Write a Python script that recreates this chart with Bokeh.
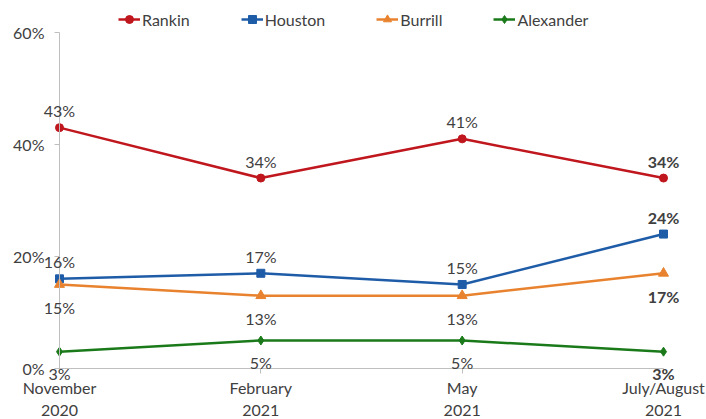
from bokeh.plotting import figure
from bokeh.models import ColumnDataSource, FixedTicker, Legend, LegendItem, Range1d, LabelSet
from bokeh.core.properties import value
from bokeh.embed import file_html
from bokeh.resources import INLINE

periods = ["November\n2020", "February\n2021", "May\n2021", "July/August\n2021"]
rankin = [43, 34, 41, 34]
houston = [16, 17, 15, 24]
burrill = [15, 13, 13, 17]
alexander = [3, 5, 5, 3]
y_ticks = [0, 20, 40, 60]

FONT = "Lato"
TXT = "#404040"

series = [
    ("Rankin", rankin, "#C0161D", "circle", 8, 17),
    ("Houston", houston, "#1F5CA8", "square", 8, 17),
    ("Burrill", burrill, "#E8822E", "triangle", 10, -23),
    ("Alexander", alexander, "#1A7A1A", "diamond", 9, -22),
]

p = figure(width=706, height=419, output_backend="svg", toolbar_location=None,
           x_range=Range1d(-0.293, 3.2135), y_range=Range1d(-9.107, 65.7),
           min_border_left=0, min_border_right=0, min_border_top=0, min_border_bottom=0)
p.outline_line_color = None
p.grid.visible = False
p.background_fill_color = "white"

xs = list(range(len(periods)))
items = []
for name, vals, color, marker, msize, yoff in series:
    src = ColumnDataSource(dict(x=xs, y=vals))
    ln = p.line("x", "y", source=src, line_color=color, line_width=2.5)
    sc = p.scatter("x", "y", source=src, marker=marker, size=msize,
                   fill_color=color, line_color=color)
    items.append(LegendItem(label=name, renderers=[ln, sc]))
    n = len(vals)
    for idxs, style in ((list(range(n - 1)), "normal"), ([n - 1], "bold")):
        lsrc = ColumnDataSource(dict(x=[xs[i] for i in idxs], y=[vals[i] for i in idxs],
                                     lab=[f"{vals[i]}%" for i in idxs]))
        p.add_layout(LabelSet(x="x", y="y", text="lab", source=lsrc,
                              text_font=value(FONT), text_font_size="16px",
                              text_color=TXT, text_align="center",
                              text_baseline="middle", y_offset=yoff,
                              text_font_style=style))

legend = Legend(items=items, orientation="horizontal", location=(118, 390),
                label_text_font=FONT, label_text_font_size="16px",
                label_text_color=TXT, glyph_width=22, glyph_height=20,
                label_height=20, label_standoff=2, spacing=51, padding=0,
                margin=0, border_line_color=None, background_fill_alpha=0)
p.add_layout(legend, "center")

p.xaxis.ticker = FixedTicker(ticks=xs)
p.xaxis.major_label_overrides = {i: s for i, s in enumerate(periods)}
p.xaxis.bounds = (xs[0], xs[-1])
p.xaxis.fixed_location = y_ticks[0]
p.yaxis.ticker = FixedTicker(ticks=y_ticks)
p.yaxis.major_label_overrides = {v: f"{v}%" for v in y_ticks}
p.yaxis.bounds = (y_ticks[0], y_ticks[-1])
p.yaxis.fixed_location = xs[0]

for ax in (p.xaxis, p.yaxis):
    ax.axis_line_color = "#BFBFBF"
    ax.major_tick_line_color = "#BFBFBF"
    ax.minor_tick_line_color = None
    ax.major_tick_in = 0
    ax.major_tick_out = 5
    ax.major_label_text_font = FONT
    ax.major_label_text_font_size = "16px"
    ax.major_label_text_color = TXT
p.xaxis.major_label_standoff = 5
p.xaxis.major_label_text_line_height = 1.15
p.yaxis.major_label_standoff = 10

open("out.html", "w").write(file_html(p, INLINE))
